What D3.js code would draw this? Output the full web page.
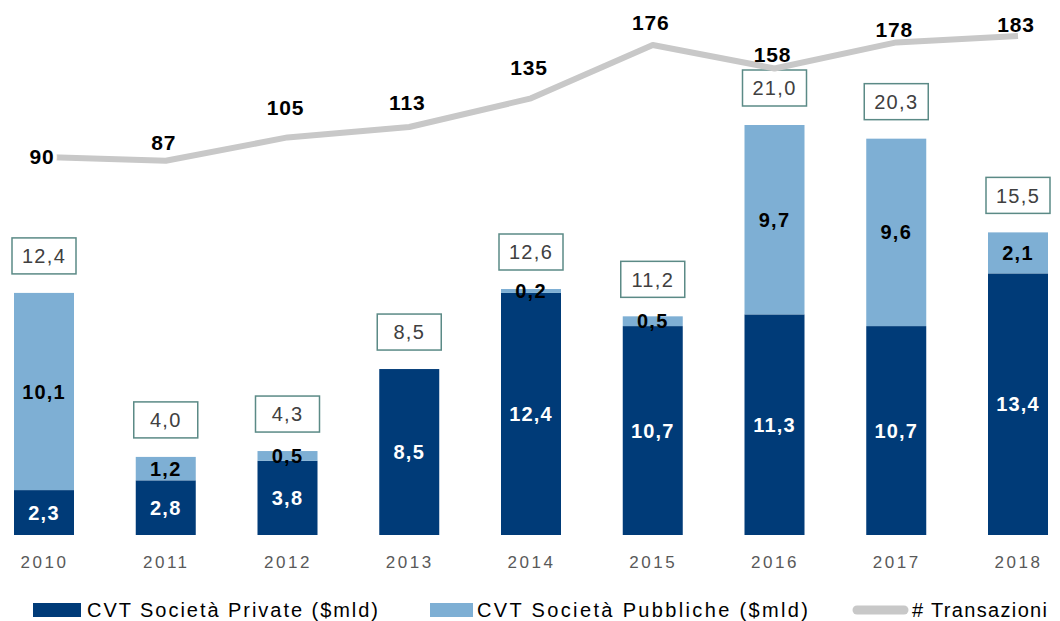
<!DOCTYPE html>
<html>
<head>
<meta charset="utf-8">
<script src="https://cdn.jsdelivr.net/npm/d3@7"></script>
<style>
  body { margin: 0; background: #fff; }
  svg { display: block; font-family: "Liberation Sans", Arial, sans-serif; }
</style>
</head>
<body>
<div id="chart"></div>
<script>
// Chart data
const years = ["2010", "2011", "2012", "2013", "2014", "2015", "2016", "2017", "2018"];
const privateVals = [2.3, 2.8, 3.8, 8.5, 12.4, 10.7, 11.3, 10.7, 13.4];
const publicVals = [10.1, 1.2, 0.5, 0, 0.2, 0.5, 9.7, 9.6, 2.1];
const totals = [12.4, 4.0, 4.3, 8.5, 12.6, 11.2, 21.0, 20.3, 15.5];
const deals = [90, 87, 105, 113, 135, 176, 158, 178, 183];
const legendLabels = ["CVT Società Private ($mld)", "CVT Società Pubbliche ($mld)", "# Transazioni"];

// how far above the line point each deal label sits (labels were hand-placed in the original)
const dealLabelLift = [0, 11, 22, 17, 23, 15, 6, 5, 4];

const width = 1060;
const height = 621;
const darkBlue = "#003b78";
const lightBlue = "#7eafd4";
const lineGray = "#c8c8c8";
const fmt = v => v.toFixed(1).replace(".", ",");

const svg = d3.select("#chart").append("svg")
    .attr("width", width)
    .attr("height", height);

const x = d3.scalePoint().domain(years).range([44, 1018]);
const y = d3.scaleLinear().domain([0, 21]).range([535, 125]);
const yLine = d3.scaleLinear().domain([0, 200]).range([274, 13.8]);
const barW = 60;

const rows = years.map((yr, i) => ({
    year: yr, priv: privateVals[i], pub: publicVals[i], total: totals[i], deals: deals[i], lift: dealLabelLift[i]
}));

// bars
const g = svg.append("g");
g.selectAll("rect.priv")
    .data(rows)
    .join("rect")
    .attr("class", "priv")
    .attr("x", d => x(d.year) - barW / 2)
    .attr("width", barW)
    .attr("y", d => y(d.priv))
    .attr("height", d => y(0) - y(d.priv))
    .attr("fill", darkBlue);

g.selectAll("rect.pub")
    .data(rows.filter(d => d.pub > 0))
    .join("rect")
    .attr("class", "pub")
    .attr("x", d => x(d.year) - barW / 2)
    .attr("width", barW)
    .attr("y", d => y(d.priv + d.pub))
    .attr("height", d => y(d.priv) - y(d.priv + d.pub))
    .attr("fill", lightBlue);

// segment labels
g.selectAll("text.privLbl")
    .data(rows)
    .join("text")
    .attr("x", d => x(d.year))
    .attr("y", d => (y(0) + y(d.priv)) / 2)
    .attr("dy", "0.35em")
    .attr("text-anchor", "middle")
    .attr("fill", "#fff")
    .attr("font-weight", "bold")
    .attr("font-size", 20)
    .attr("letter-spacing", 1.2)
    .text(d => fmt(d.priv));

g.selectAll("text.pubLbl")
    .data(rows.filter(d => d.pub > 0))
    .join("text")
    .attr("x", d => x(d.year))
    .attr("y", d => (y(d.priv) + y(d.priv + d.pub)) / 2)
    .attr("dy", "0.35em")
    .attr("text-anchor", "middle")
    .attr("fill", "#000")
    .attr("font-weight", "bold")
    .attr("font-size", 20)
    .attr("letter-spacing", 1.2)
    .text(d => fmt(d.pub));

// total boxes
const tot = g.selectAll("g.tot")
    .data(rows)
    .join("g")
    .attr("transform", d => `translate(${x(d.year)},${y(d.total) - 37})`);

tot.append("rect")
    .attr("x", -32)
    .attr("y", -18)
    .attr("width", 64)
    .attr("height", 36)
    .attr("fill", "#fff")
    .attr("stroke", "#5b8a86")
    .attr("stroke-width", 1.5);

tot.append("text")
    .attr("text-anchor", "middle")
    .attr("dy", "0.36em")
    .attr("font-size", 20)
    .attr("letter-spacing", 1.3)
    .attr("fill", "#404040")
    .text(d => fmt(d.total));

// line
const line = d3.line()
    .x(d => x(d.year))
    .y(d => yLine(d.deals));

svg.append("path")
    .datum(rows)
    .attr("d", line)
    .attr("fill", "none")
    .attr("stroke", lineGray)
    .attr("stroke-width", 6)
    .attr("stroke-linejoin", "round");

svg.selectAll("text.deal")
    .data(rows)
    .join("text")
    .attr("x", (d, i) => i === 0 ? x(d.year) - 2 : x(d.year) - 2)
    .attr("y", (d, i) => yLine(d.deals) - d.lift)
    .attr("dy", (d, i) => i === 0 ? "0.36em" : 0)
    .attr("text-anchor", "middle")
    .attr("font-weight", "bold")
    .attr("font-size", 21)
    .attr("letter-spacing", 0.8)
    .attr("fill", "#000")
    .attr("paint-order", "stroke")
    .attr("stroke", (d, i) => i === 0 ? "#fff" : "none")
    .attr("stroke-width", 8)
    .text(d => d.deals);

// x axis labels
const xAxis = svg.append("g")
    .attr("transform", "translate(0,535)")
    .call(d3.axisBottom(x).tickSize(0).tickPadding(21));
xAxis.select(".domain").remove();
xAxis.selectAll("text")
    .attr("font-family", "Liberation Sans, Arial, sans-serif")
    .attr("font-size", 17)
    .attr("letter-spacing", 2.5)
    .attr("fill", "#595959");

// legend
const legend = svg.append("g").attr("transform", "translate(0,610)");
const legendItems = [
    { x: 33, w: 48, tx: 87, tw: 291, color: darkBlue, type: "rect", label: legendLabels[0] },
    { x: 430, w: 43, tx: 477, tw: 331, color: lightBlue, type: "rect", label: legendLabels[1] },
    { x: 853, w: 55, tx: 912, tw: 135, color: lineGray, type: "line", label: legendLabels[2] }
];
legendItems.forEach(it => {
    if (it.type === "rect") {
        legend.append("rect")
            .attr("x", it.x).attr("y", -7)
            .attr("width", it.w).attr("height", 14)
            .attr("fill", it.color);
    } else {
        legend.append("line")
            .attr("x1", it.x + 4).attr("x2", it.x + it.w - 4)
            .attr("stroke", it.color)
            .attr("stroke-width", 9)
            .attr("stroke-linecap", "round");
    }
    legend.append("text")
        .attr("x", it.tx)
        .attr("dy", "0.35em")
        .attr("font-size", 20)
        .attr("textLength", it.tw)
        .attr("lengthAdjust", "spacing")
        .attr("fill", "#000")
        .text(it.label);
});
</script>
</body>
</html>
